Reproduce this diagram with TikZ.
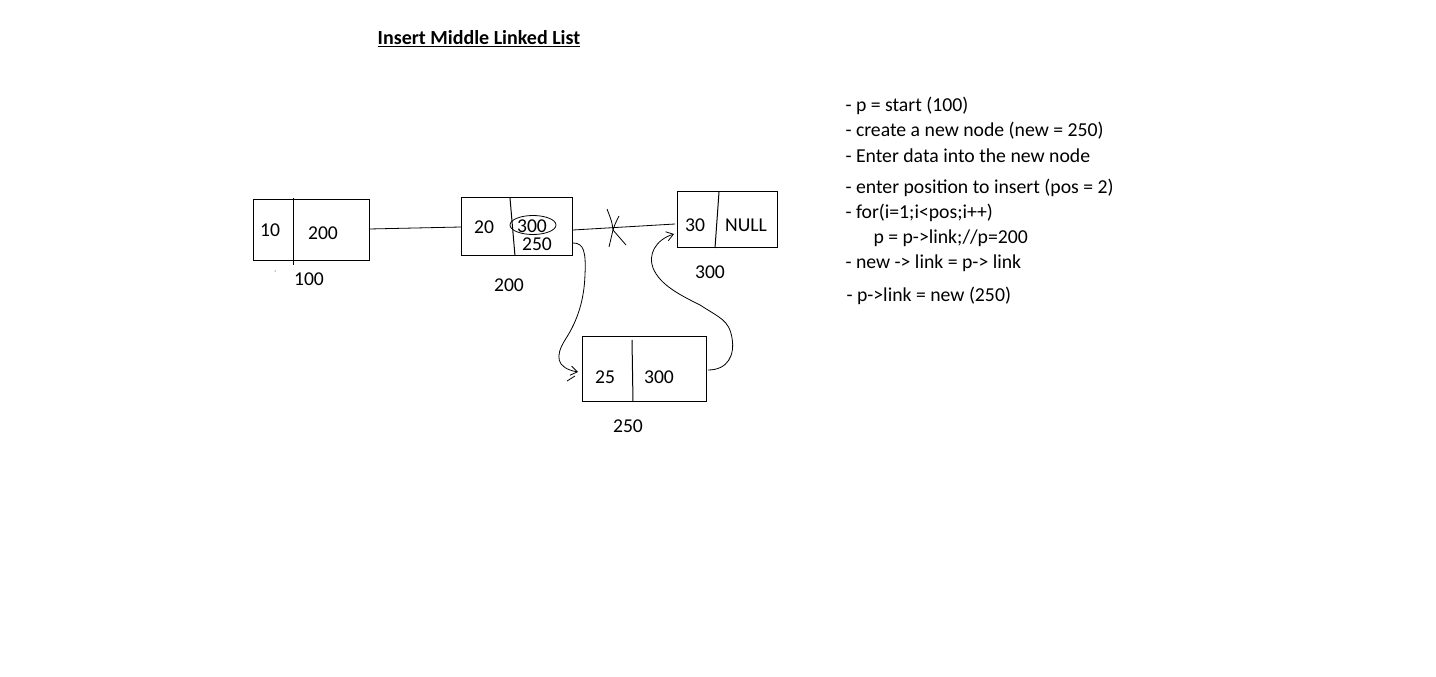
\documentclass[tikz,border=0pt]{standalone}
\usepackage{fontspec}
\setmainfont{Carlito}
\usetikzlibrary{arrows.meta,shapes.geometric}
\begin{document}
\begin{tikzpicture}[x=0.75pt,y=-0.75pt,line width=0.75pt,
  box/.style={draw,rectangle,inner sep=0pt},
  lbl/.style={font=\fontsize{14.7pt}{17pt}\selectfont,inner sep=0pt},
  note/.style={font=\fontsize{14.8pt}{17pt}\selectfont,inner sep=0pt,anchor=west},
  link/.style={line width=0.6pt},
  arr/.style={line width=0.6pt,-{Straight Barb[length=5pt,width=7pt]}}]
\path[fill=white] (0,0) rectangle (1436,677);
\useasboundingbox (0,0) rectangle (1436,677);

% title
\node[lbl,font=\fontsize{15pt}{17pt}\selectfont\bfseries] (title) at (479,39) {\underline{Insert Middle Linked List}};

% node 100
\node[box,minimum width=116*0.75pt,minimum height=61*0.75pt] (n1) at (311,230.5) {};
\draw (293,198) -- (293,265);
\node[lbl] (n1d) at (270,230) {10};
\node[lbl] (n1p) at (323,233) {200};
\node[lbl] (n1a) at (309,279) {100};
\fill (275,271) circle (0.5);

% node 200
\node[box,minimum width=111*0.75pt,minimum height=58*0.75pt] (n2) at (516.5,227) {};
\draw (510,198) -- (515,256);
\node[lbl] (n2d) at (484,227) {20};
\node[lbl] (n2p) at (532,226) {300};
\node[draw,ellipse,minimum width=46*0.75pt,minimum height=19*0.75pt,inner sep=0pt,line width=0.6pt] (ell) at (533,225) {};
\node[lbl] (n2q) at (537,244) {250};
\node[lbl] (n2a) at (509,285) {200};

% node 300
\node[box,minimum width=100*0.75pt,minimum height=56*0.75pt] (n3) at (727,220) {};
\draw (719,192) -- (715,248);
\node[lbl] (n3d) at (695,225) {30};
\node[lbl] (n3p) at (746,225) {NULL};
\node[lbl] (n3a) at (710,272) {300};

% node 250
\node[box,minimum width=124*0.75pt,minimum height=65*0.75pt] (n4) at (644,369.5) {};
\draw (632,340) -- (633,402);
\node[lbl] (n4d) at (605,377) {25};
\node[lbl] (n4p) at (659,377) {300};
\node[lbl] (n4a) at (628,426) {250};

% links
\coordinate (c1) at (369,229);
\coordinate (c2) at (461,227);
\draw[link] (c1) -- (c2);
\coordinate (c3) at (573,230);
\coordinate (c4) at (675,224);
\draw[link] (c3) -- (c4);
% cross
\draw[link] (607,209) .. controls (612,222) .. (613,230) .. controls (611,238) .. (609,247);
\draw[link] (619,216) .. controls (615,224) .. (613,230) .. controls (620,238) .. (626,245);

% 250 -> new node
\coordinate (s1) at (573,243);
\coordinate (e1) at (578,372);
\draw[arr] (s1) .. controls (584,243) and (586,252) .. (585,275)
  .. controls (584,300) and (578,320) .. (565,340)
  .. controls (555,356) and (556,368) .. (e1);
\draw[link] (575,376) -- (567,381);

% new node -> 300
\coordinate (s2) at (708,370);
\coordinate (e2) at (674,234);
\draw[arr] (s2) .. controls (728,370) and (735,355) .. (732,338)
  .. controls (729,320) and (720,318) .. (700,305)
  .. controls (680,295) and (660,285) .. (653,268)
  .. controls (648,255) and (655,240) .. (e2);

% notes
\node[note] (t1) at (845,106) {- p = start (100)};
\node[note] (t2) at (845,131) {- create a new node (new = 250)};
\node[note] (t3) at (845,156) {- Enter data into the new node};
\node[note] (t4) at (845,188) {- enter position to insert (pos = 2)};
\node[note] (t5) at (845,213) {- for(i=1;i<pos;i++)};
\node[note] (t6) at (873,238) {p = p->link;//p=200};
\node[note] (t7) at (845,263) {- new -> link = p-> link};
\node[note] (t8) at (846,296) {- p->link = new (250)};
\end{tikzpicture}
\end{document}
